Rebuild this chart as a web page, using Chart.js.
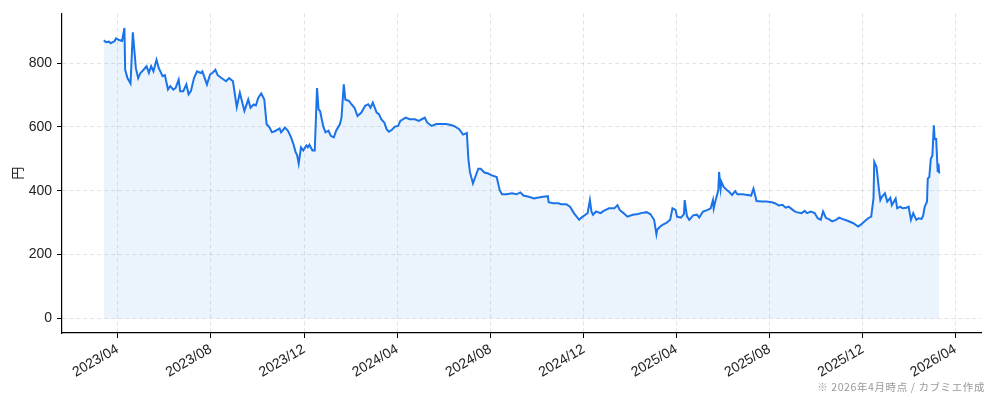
<!DOCTYPE html>
<html lang="ja">
<head>
<meta charset="utf-8">
<title>株価推移</title>
<script src="https://cdn.jsdelivr.net/npm/chart.js@4.4.1/dist/chart.umd.min.js"></script>
<style>
  html, body { margin: 0; padding: 0; background: #fff; }
  .wrap { position: relative; width: 994px; height: 401px; }
  #chart { display: block; }
  .note { position: absolute; right: 9px; bottom: 7px; font: 10.5px "Noto Sans CJK JP", sans-serif; color: #999; letter-spacing: 0.6px; }
</style>
</head>
<body>
<div class="wrap">
  <canvas id="chart" width="994" height="401"></canvas>
  <div class="note">※ 2026年4月時点 / カブミエ作成</div>
</div>
<script>
  // price series
  const dates = [
    '2023-03-14', '2023-03-17', '2023-03-21', '2023-03-23', '2023-03-28', '2023-03-30', '2023-04-03', '2023-04-07',
    '2023-04-10', '2023-04-11', '2023-04-14', '2023-04-18', '2023-04-21', '2023-04-25', '2023-04-28', '2023-05-01',
    '2023-05-05', '2023-05-09', '2023-05-12', '2023-05-15', '2023-05-18', '2023-05-22', '2023-05-25', '2023-05-30',
    '2023-06-02', '2023-06-06', '2023-06-09', '2023-06-13', '2023-06-16', '2023-06-20', '2023-06-22', '2023-06-26',
    '2023-06-30', '2023-07-03', '2023-07-06', '2023-07-10', '2023-07-14', '2023-07-19', '2023-07-21', '2023-07-27',
    '2023-07-31', '2023-08-03', '2023-08-07', '2023-08-10', '2023-08-15', '2023-08-21', '2023-08-25', '2023-08-30',
    '2023-09-04', '2023-09-08', '2023-09-14', '2023-09-19', '2023-09-22', '2023-09-26', '2023-09-29', '2023-10-02',
    '2023-10-06', '2023-10-10', '2023-10-13', '2023-10-17', '2023-10-20', '2023-10-25', '2023-10-30', '2023-11-01',
    '2023-11-06', '2023-11-10', '2023-11-14', '2023-11-17', '2023-11-20', '2023-11-22', '2023-11-24', '2023-11-27',
    '2023-11-30', '2023-12-04', '2023-12-06', '2023-12-08', '2023-12-12', '2023-12-15', '2023-12-18', '2023-12-20',
    '2023-12-22', '2023-12-26', '2023-12-29', '2024-01-02', '2024-01-05', '2024-01-09', '2024-01-12', '2024-01-17',
    '2024-01-19', '2024-01-22', '2024-01-24', '2024-01-29', '2024-02-01', '2024-02-05', '2024-02-09', '2024-02-14',
    '2024-02-19', '2024-02-23', '2024-02-26', '2024-02-29', '2024-03-05', '2024-03-08', '2024-03-11', '2024-03-15',
    '2024-03-18', '2024-03-21', '2024-03-25', '2024-03-29', '2024-04-02', '2024-04-05', '2024-04-12', '2024-04-17',
    '2024-04-24', '2024-04-29', '2024-05-03', '2024-05-07', '2024-05-10', '2024-05-16', '2024-05-22', '2024-05-29',
    '2024-06-04', '2024-06-10', '2024-06-14', '2024-06-21', '2024-06-26', '2024-07-01', '2024-07-03', '2024-07-05',
    '2024-07-09', '2024-07-12', '2024-07-16', '2024-07-19', '2024-07-24', '2024-07-29', '2024-08-02', '2024-08-09',
    '2024-08-13', '2024-08-16', '2024-08-22', '2024-08-29', '2024-09-04', '2024-09-09', '2024-09-13', '2024-09-20',
    '2024-09-27', '2024-10-01', '2024-10-09', '2024-10-15', '2024-10-16', '2024-10-22', '2024-10-29', '2024-11-01',
    '2024-11-08', '2024-11-13', '2024-11-18', '2024-11-25', '2024-11-28', '2024-12-03', '2024-12-06', '2024-12-09',
    '2024-12-11', '2024-12-13', '2024-12-17', '2024-12-23', '2024-12-27', '2025-01-03', '2025-01-10', '2025-01-14',
    '2025-01-17', '2025-01-22', '2025-01-27', '2025-02-03', '2025-02-10', '2025-02-14', '2025-02-21', '2025-02-26',
    '2025-03-03', '2025-03-06', '2025-03-07', '2025-03-11', '2025-03-14', '2025-03-19', '2025-03-24', '2025-03-27',
    '2025-03-31', '2025-04-02', '2025-04-07', '2025-04-11', '2025-04-12', '2025-04-15', '2025-04-18', '2025-04-23',
    '2025-04-28', '2025-05-01', '2025-05-06', '2025-05-12', '2025-05-16', '2025-05-19', '2025-05-20', '2025-05-22',
    '2025-05-26', '2025-05-27', '2025-05-29', '2025-05-30', '2025-06-02', '2025-06-05', '2025-06-09', '2025-06-13',
    '2025-06-17', '2025-06-20', '2025-06-27', '2025-07-03', '2025-07-08', '2025-07-11', '2025-07-15', '2025-07-22',
    '2025-07-28', '2025-08-04', '2025-08-08', '2025-08-13', '2025-08-18', '2025-08-22', '2025-08-26', '2025-09-02',
    '2025-09-05', '2025-09-12', '2025-09-16', '2025-09-19', '2025-09-24', '2025-09-29', '2025-10-03', '2025-10-07',
    '2025-10-10', '2025-10-14', '2025-10-17', '2025-10-22', '2025-10-27', '2025-10-31', '2025-11-04', '2025-11-11',
    '2025-11-18', '2025-11-25', '2025-11-28', '2025-12-03', '2025-12-08', '2025-12-12', '2025-12-15', '2025-12-16',
    '2025-12-19', '2025-12-22', '2025-12-24', '2025-12-26', '2025-12-30', '2026-01-02', '2026-01-06', '2026-01-08',
    '2026-01-13', '2026-01-15', '2026-01-19', '2026-01-22', '2026-01-27', '2026-01-30', '2026-02-02', '2026-02-05',
    '2026-02-09', '2026-02-12', '2026-02-16', '2026-02-18', '2026-02-20', '2026-02-23', '2026-02-24', '2026-02-26',
    '2026-02-28', '2026-03-02', '2026-03-04', '2026-03-05', '2026-03-07', '2026-03-09', '2026-03-10', '2026-03-11'
  ];
  const prices = [
    871, 865, 867, 862, 868, 877, 872, 869,
    910, 779, 753, 736, 896, 784, 753, 769,
    779, 790, 769, 790, 774, 810, 784, 759,
    762, 717, 728, 717, 722, 748, 712, 712,
    733, 702, 712, 753, 774, 769, 774, 733,
    764, 769, 779, 762, 753, 743, 753, 743,
    662, 707, 650, 686, 660, 670, 667, 691,
    705, 686, 609, 598, 583, 588, 595, 583,
    598, 588, 567, 547, 521, 511, 485, 536,
    526, 542, 536, 544, 526, 526, 722, 655,
    650, 603, 583, 588, 572, 567, 588, 609,
    629, 733, 686, 681, 671, 660, 634, 645,
    666, 671, 660, 676, 645, 640, 624, 614,
    593, 585, 591, 601, 603, 619, 629, 624,
    624, 619, 624, 629, 614, 603, 609, 609,
    609, 606, 603, 593, 576, 581, 500, 459,
    423, 443, 469, 469, 457, 454, 449, 443,
    402, 389, 389, 392, 389, 395, 385, 381,
    376, 378, 381, 383, 364, 361, 361, 358,
    358, 350, 330, 309, 316, 325, 330, 371,
    335, 325, 335, 330, 337, 345, 345, 355,
    340, 330, 319, 325, 327, 330, 333, 327,
    309, 264, 278, 288, 293, 299, 309, 345,
    340, 319, 316, 327, 371, 320, 309, 323,
    325, 316, 335, 340, 345, 371, 345, 366,
    402, 459, 407, 428, 412, 405, 397, 387,
    399, 389, 389, 387, 385, 407, 368, 366,
    366, 364, 361, 354, 356, 347, 350, 337,
    333, 330, 337, 330, 335, 330, 314, 309,
    335, 314, 312, 304, 309, 316, 312, 306,
    299, 288, 293, 304, 314, 319, 376, 490,
    474, 407, 371, 381, 392, 366, 378, 355,
    376, 345, 350, 345, 347, 350, 309, 330,
    309, 314, 312, 323, 350, 366, 438, 443,
    500, 510, 605, 562, 562, 459, 485, 454
  ];
  const xTickDates = ['2023-04-01', '2023-08-01', '2023-12-01', '2024-04-01', '2024-08-01',
    '2024-12-01', '2025-04-01', '2025-08-01', '2025-12-01', '2026-04-01'];
  const yTicks = [0, 200, 400, 600, 800];

  function toTime(s) {
    const [y, m, d] = s.split('-').map(Number);
    return Date.UTC(y, m - 1, d);
  }
  function fmtMonth(t) {
    const d = new Date(t);
    return d.getUTCFullYear() + '/' + String(d.getUTCMonth() + 1).padStart(2, '0');
  }

  const points = dates.map((d, i) => ({ x: toTime(d), y: prices[i] }));

  // 5% margins around the data, like the original plot
  const xFirst = toTime(dates[0]);
  const xLast = toTime(dates[dates.length - 1]);
  const xPad = (xLast - xFirst) * 0.05;
  const yTop = Math.max(...prices);
  const yPad = yTop * 0.05;

  const tickFont = { family: '"Liberation Sans", "Noto Sans CJK JP", sans-serif', size: 14 };
  const gridColor = 'rgba(0,0,0,0.11)';

  new Chart(document.getElementById('chart'), {
    type: 'line',
    data: {
      datasets: [{
        data: points,
        borderColor: '#1a73e8',
        borderWidth: 2,
        backgroundColor: 'rgba(26,115,232,0.085)',
        fill: 'origin',
        pointRadius: 0,
        tension: 0
      }]
    },
    options: {
      responsive: false,
      animation: false,
      layout: { padding: { top: 10, right: 13, left: 0, bottom: 0 } },
      plugins: { legend: { display: false }, tooltip: { enabled: false } },
      scales: {
        x: {
          type: 'linear',
          min: xFirst - xPad,
          max: xLast + xPad,
          afterBuildTicks: (s) => { s.ticks = xTickDates.map((d) => ({ value: toTime(d) })); },
          afterFit: (s) => { s.height = 68; },
          ticks: {
            callback: (v) => fmtMonth(v),
            minRotation: 30,
            maxRotation: 30,
            autoSkip: false,
            color: '#222',
            font: tickFont,
            padding: 3
          },
          grid: { color: gridColor, tickColor: '#000', tickLength: 5, tickWidth: 1 },
          border: { color: '#000', width: 1.2, dash: [4, 3] }
        },
        y: {
          min: -yPad,
          max: yTop + yPad,
          afterBuildTicks: (s) => { s.ticks = yTicks.map((v) => ({ value: v })); },
          afterFit: (s) => { s.width = 62; },
          ticks: { color: '#222', font: tickFont, padding: 5 },
          title: {
            display: true,
            text: '円',
            color: '#222',
            font: { family: '"Noto Sans CJK JP", sans-serif', size: 13 },
            padding: { top: 9, bottom: 0 }
          },
          grid: { color: gridColor, tickColor: '#000', tickLength: 5, tickWidth: 1 },
          border: { color: '#000', width: 1.2, dash: [4, 3] }
        }
      }
    }
  });
</script>
</body>
</html>
